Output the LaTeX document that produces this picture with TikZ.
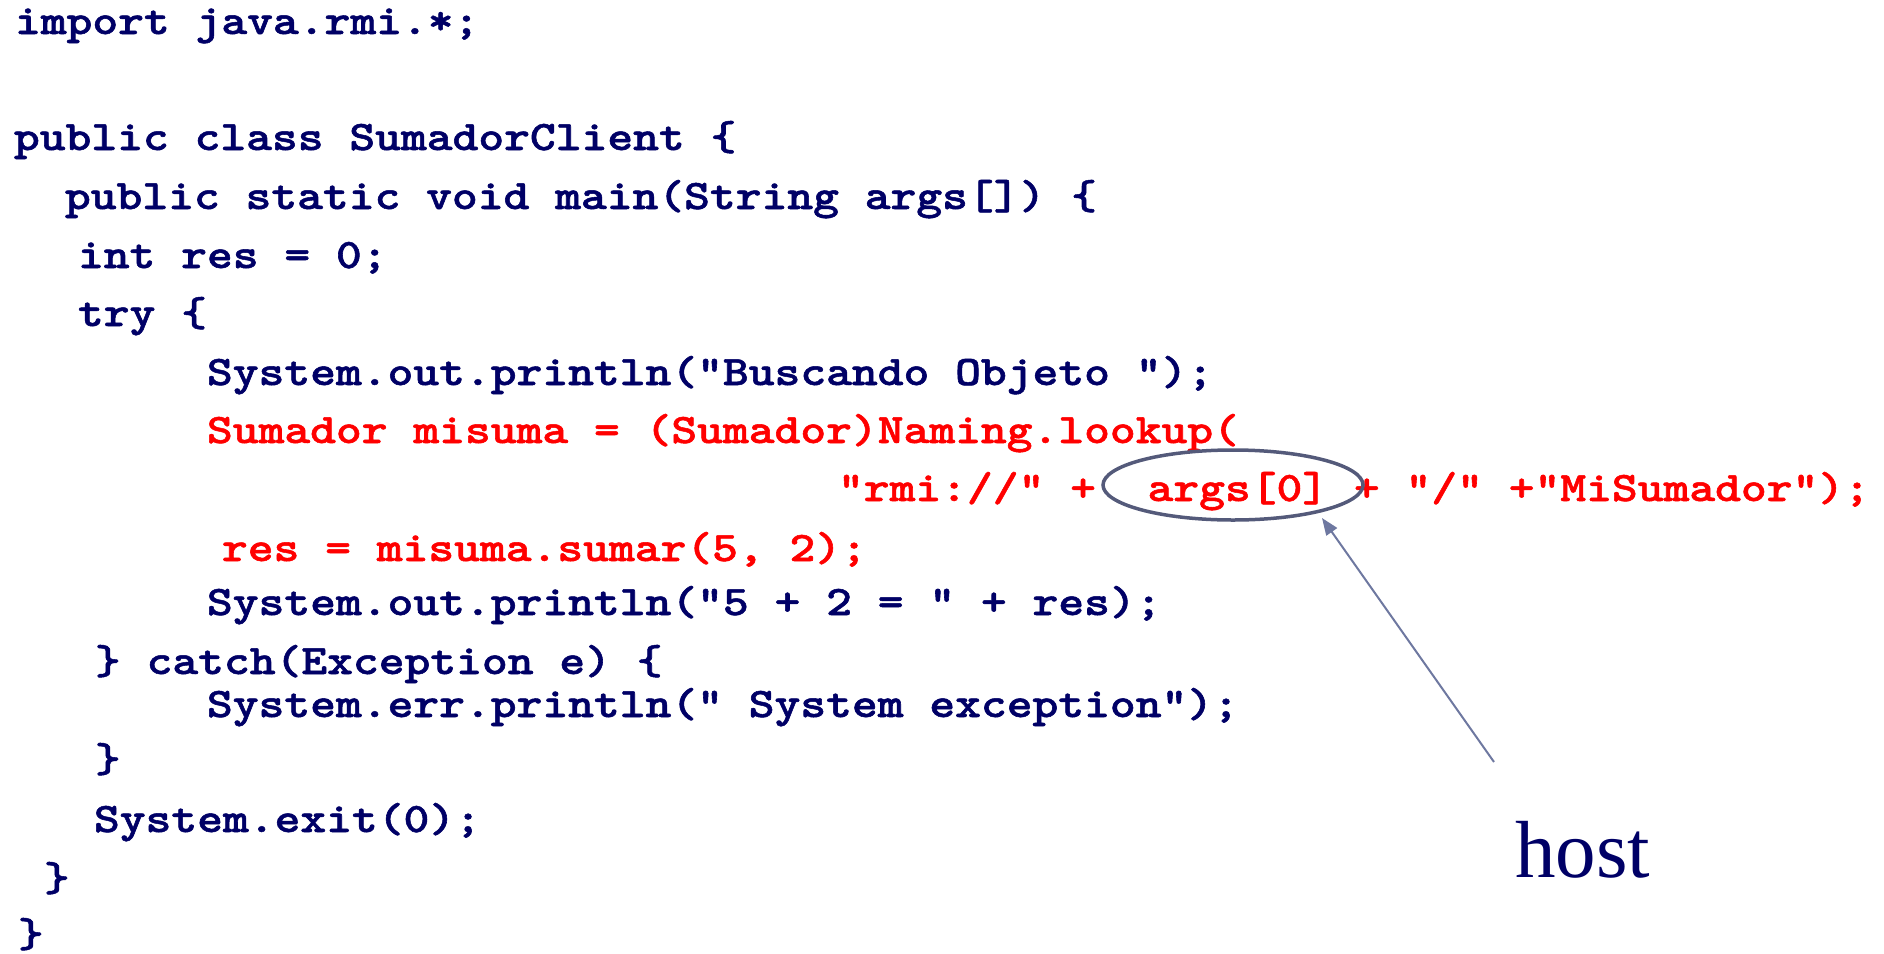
\documentclass[tikz,border=0pt]{standalone}
\usepackage{fontspec}
\newfontfamily\codefont{lmmonolt10-bold.otf}[Ligatures=ResetAll, FakeBold=1.2]
\newfontfamily\hostfont{Liberation Serif}
\usetikzlibrary{shapes.geometric,arrows.meta}
\definecolor{codeblue}{RGB}{0,0,102}
\definecolor{codered}{RGB}{255,0,0}
\definecolor{ringgray}{RGB}{84,90,122}
\definecolor{arrowgray}{RGB}{110,120,160}
% widen the monospaced glyphs to the listing's character pitch
\newcommand\pitch[1]{\scalebox{1.17}[1]{#1}}
\tikzset{
  src/.style={anchor=base west, inner sep=0pt, outer sep=0pt, text=codeblue,
    font=\codefont\fontsize{42pt}{42pt}\selectfont},
  hot/.style={src, text=codered},
  ring/.style={draw=ringgray, line width=3.5pt, ellipse, inner sep=0pt,
    minimum width=260pt, minimum height=70pt},
  pointer/.style={draw=arrowgray, line width=2pt,
    -{Triangle[length=17pt,width=13pt]}},
  label/.style={anchor=base west, inner sep=0pt, text=codeblue,
    font=\hostfont\fontsize{81pt}{81pt}\selectfont},
}
\begin{document}
\begin{tikzpicture}[x=1pt, y=-1pt]
\useasboundingbox (0,0) rectangle (1884,953);

\node[src] (l1)  at (15,34)   {\pitch{import java.rmi.*;}};
\node[src] (l2)  at (14,150)  {\pitch{public class SumadorClient \{}};
\node[src] (l3)  at (65,209)  {\pitch{public static void main(String args[]) \{}};
\node[src] (l4)  at (78,268)  {\pitch{int res = 0;}};
\node[src] (l5)  at (78,326)  {\pitch{try \{}};
\node[src] (l6)  at (207,385) {\pitch{System.out.println("Buscando Objeto ");}};
\node[hot] (l7)  at (207,443) {\pitch{Sumador misuma = (Sumador)Naming.lookup(}};
\node[hot] (l8)  at (838,501) {\pitch{"rmi://" +~~args[0] + "/" +"MiSumador");}};
\node[hot] (l9)  at (222,561) {\pitch{res = misuma.sumar(5, 2);}};
\node[src] (l10) at (207,615) {\pitch{System.out.println("5 + 2 = " + res);}};
\node[src] (l11) at (95,674)  {\pitch{\} catch(Exception e) \{}};
\node[src] (l12) at (207,717) {\pitch{System.err.println(" System exception");}};
\node[src] (l13) at (95,772)  {\pitch{\}}};
\node[src] (l14) at (94,832)  {\pitch{System.exit(0);}};
\node[src] (l15) at (44,891)  {\pitch{\}}};
\node[src] (l16) at (18,947)  {\pitch{\}}};

% the host argument and its callout
\node[ring] (hostarg) at (1233,485) {};
\node[label] (hostlbl) at (1515,877) {host};
\coordinate (tail) at (1494,762);
\coordinate (tip) at (1322,518);
\draw[pointer] (tail) -- (tip);
\end{tikzpicture}
\end{document}
